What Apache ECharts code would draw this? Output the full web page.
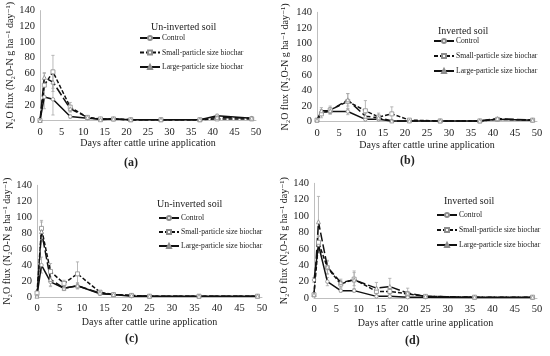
<!DOCTYPE html>
<html><head><meta charset="utf-8">
<script src="https://cdn.jsdelivr.net/npm/echarts@6/dist/echarts.min.js"></script>
<style>html,body{margin:0;padding:0;background:#fff}#c{width:550px;height:356px}</style>
</head><body><div id="c"></div>
<script>
// ---- Data ----
const daysAB = [0,1,3,7,11,14,17,21,28,37,41,49];
const daysCD = [0,1,3,6,9,14,17,21,25,36,49];

const ctrlA  = [0,30,27,5,3,2,2,1,1,1,6,3];
const smallA = [0,45,62,17,4,2,2,1,1,1,2,2];
const largeA = [0,55,49,15,4,1,2,1,1,1,4,3];
const ctrlAErr  = [0,15,20,2,1,1,1,0.5,0.5,0.5,2,1];
const smallAErr = [0,15,21,6,1,1,1,0.5,0.5,0.5,1,1];
const largeAErr = [0,6,12,4,1,1,1,0.5,0.5,0.5,2,1];

const ctrlB  = [2,12,13,13,3,3,1,1,1,1,3,2];
const smallB = [2,10,15,26,14,6,10,2,1,1,3,2];
const largeB = [2,14,14,28,7,5,1,1,1,1,4,2];
const ctrlBErr  = [1,3,3,4,1,1,0.5,0.5,0.5,0.5,1,1];
const smallBErr = [1,5,5,10,13,5,9,1,0.5,0.5,1,1];
const largeBErr = [1,4,4,8,4,3,1,1,0.5,0.5,1,1];

const ctrlC  = [2,40,19,11,14,4,3,1,1,1,1];
const smallC = [5,86,32,17,29,6,3,2,1,1,1];
const largeC = [1,82,22,11,14,5,3,2,1,1,1];
const ctrlCErr  = [1,10,6,2,3,1,1,0.5,0.5,0.5,0.5];
const smallCErr = [2,10,10,4,15,2,1,1,0.5,0.5,0.5];
const largeCErr = [1,12,8,3,4,1,1,1,0.5,0.5,0.5];

const ctrlD  = [22,65,20,9,9,2,2,1,1,0.5,0.5];
const smallD = [4,68,37,17,23,8,8,5,2,1,1];
const largeD = [4,93,38,19,22,12,14,6,2,1,1];
const ctrlDErr  = [3,10,5,2,2,1,1,1,0.5,0.5,0.5];
const smallDErr = [2,8,8,4,8,5,5,3,1,0.5,0.5];
const largeDErr = [2,31,8,4,11,7,10,6,1,0.5,0.5];

const xTicks = [0,5,10,15,20,25,30,35,40,45,50];
const yTicks = [0,20,40,60,80,100,120,140];

const seriesNames = ['Control','Small-particle size biochar','Large-particle size biochar'];
const panelTitles = ['Un-inverted soil','Inverted soil','Un-inverted soil','Inverted soil'];
const panelLabels = ['(a)','(b)','(c)','(d)'];
const xName = 'Days after cattle urine application';
const yName = 'N\u2082O flux (N\u2082O-N g ha\u207B\u00B9 day\u207B\u00B9)';

// ---- Build ----
const FONT = '"Liberation Serif", "DejaVu Serif", serif';
const panels = [
  {days: daysAB, vals:[ctrlA,smallA,largeA], errs:[ctrlAErr,smallAErr,largeAErr],
   grid:{left:40,right:294,top:7,bottom:235.5}, yGap:24, xGap:18,
   leg:{left:139,top:34,gap:6.5}, title:{left:151,top:22}, lab:{left:124,top:157}},
  {days: daysAB, vals:[ctrlB,smallB,largeB], errs:[ctrlBErr,smallBErr,largeBErr],
   grid:{left:317,right:13,top:12.3,bottom:234.3}, yGap:27, xGap:19,
   leg:{left:433,top:37,gap:7}, title:{left:438,top:26}, lab:{left:400,top:155}},
  {days: daysCD, vals:[ctrlC,smallC,largeC], errs:[ctrlCErr,smallCErr,largeCErr],
   grid:{left:37,right:288,top:185.3,bottom:59}, yGap:21, xGap:20,
   leg:{left:158,top:214,gap:6}, title:{left:157,top:199}, lab:{left:125,top:333}},
  {days: daysCD, vals:[ctrlD,smallD,largeD], errs:[ctrlDErr,smallDErr,largeDErr],
   grid:{left:314,right:13,top:183.3,bottom:58}, yGap:20, xGap:20.5,
   leg:{left:436,top:211,gap:7}, title:{left:444,top:196}, lab:{left:405,top:335}}
];

const styles = [
  {type:'solid', symbol:'circle', size:3.5},
  {type:[4,2], symbol:'rect', size:4},
  {type:[9,3], symbol:'triangle', size:4}
];

const grid=[], xAxis=[], yAxis=[], series=[], legend=[], title=[];
panels.forEach((p,i)=>{
  grid.push(p.grid);
  xAxis.push({type:'value', gridIndex:i, min:xTicks[0], max:xTicks[xTicks.length-1], interval:5,
    name:xName, nameLocation:'middle', nameGap:p.xGap,
    nameTextStyle:{fontFamily:FONT,fontSize:10,color:'#222'},
    axisLine:{show:true,lineStyle:{color:'#bfbfbf',width:1}}, axisTick:{show:false},
    splitLine:{show:false}, axisLabel:{fontFamily:FONT,fontSize:10.5,color:'#222',margin:6}});
  yAxis.push({type:'value', gridIndex:i, min:yTicks[0], max:yTicks[yTicks.length-1], interval:20,
    name:yName, nameLocation:'middle', nameGap:p.yGap,
    nameTextStyle:{fontFamily:FONT,fontSize:10,color:'#222'},
    axisLine:{show:true,lineStyle:{color:'#bfbfbf',width:1}}, axisTick:{show:false},
    splitLine:{show:false}, axisLabel:{fontFamily:FONT,fontSize:10.5,color:'#222',margin:5}});
  // error bars
  const errData=[];
  p.vals.forEach((v,k)=>{ v.forEach((y,j)=>{ errData.push([p.days[j], y-p.errs[k][j], y+p.errs[k][j]]); }); });
  series.push({type:'custom', xAxisIndex:i, yAxisIndex:i, silent:true, z:1,
    data:errData, encode:{x:0,y:[1,2]},
    renderItem:(params,api)=>{
      const lo=api.coord([api.value(0),Math.max(0,api.value(1))]);
      const hi=api.coord([api.value(0),api.value(2)]);
      const w=1.6;
      return {type:'group',children:[
        {type:'line',shape:{x1:lo[0],y1:lo[1],x2:hi[0],y2:hi[1]},style:{stroke:'#a8a8a8',lineWidth:0.8}},
        {type:'line',shape:{x1:hi[0]-w,y1:hi[1],x2:hi[0]+w,y2:hi[1]},style:{stroke:'#a8a8a8',lineWidth:0.8}},
        {type:'line',shape:{x1:lo[0]-w,y1:lo[1],x2:lo[0]+w,y2:lo[1]},style:{stroke:'#a8a8a8',lineWidth:0.8}}
      ]};
    }});
  p.vals.forEach((v,k)=>{
    const s=styles[k];
    series.push({type:'line', name:seriesNames[k], xAxisIndex:i, yAxisIndex:i, z:3,
      data:v.map((y,j)=>[p.days[j],y]),
      symbol:s.symbol, symbolSize:s.size, showSymbol:true,
      lineStyle:{color:'#111',width:1.5,type:s.type},
      itemStyle:{color:'#fff',borderColor:'#8c8c8c',borderWidth:0.8},
      animation:false});
  });
  legend.push({orient:'vertical', left:p.leg.left, top:p.leg.top, itemGap:p.leg.gap,
    itemWidth:20, itemHeight:5, padding:0,
    data:seriesNames, textStyle:{fontFamily:FONT,fontSize:7.6,color:'#222',padding:[0,0,0,-3]},
    selectedMode:false});
  title.push({text:panelTitles[i], left:p.title.left, top:p.title.top, padding:0,
    textStyle:{fontFamily:FONT,fontSize:10,fontWeight:'normal',color:'#222'}});
  title.push({text:panelLabels[i], left:p.lab.left, top:p.lab.top, padding:0,
    textStyle:{fontFamily:FONT,fontSize:12,fontWeight:'bold',color:'#222'}});
});

const chart = echarts.init(document.getElementById('c'), null, {renderer:'canvas'});
chart.setOption({animation:false, backgroundColor:'#fff', grid, xAxis, yAxis, series, legend, title});
</script></body></html>
